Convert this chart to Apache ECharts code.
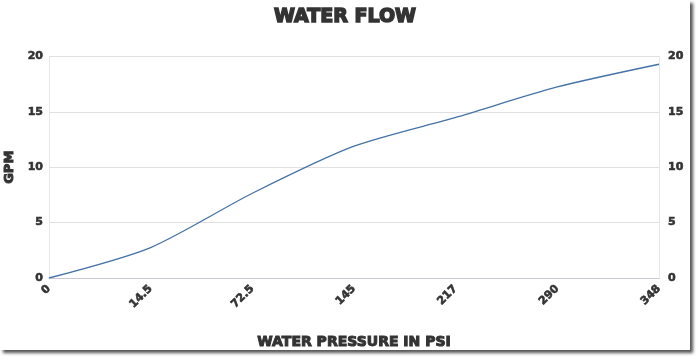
<!DOCTYPE html>
<html>
<head>
<meta charset="utf-8">
<script src="https://cdn.jsdelivr.net/npm/echarts@6/dist/echarts.min.js"></script>
<style>
html,body{margin:0;padding:0;background:#fff;}
#frame{position:absolute;left:0;top:0;width:690px;height:350px;background:#fff;box-shadow:3px 3px 3px #555;}
#chart{width:690px;height:350px;}
</style>
</head>
<body>
<div id="frame"><div id="chart"></div></div>
<script>
const categories = ['0', '14.5', '72.5', '145', '217', '290', '348'];
const flowGpm = [0, 2.75, 7.65, 11.9, 14.5, 17.25, 19.3];
const yTicks = [0, 5, 10, 15, 20];

const heavy = {fontFamily: 'DejaVu Sans', fontWeight: 'bold', color: '#333', textBorderColor: '#333'};
const chart = echarts.init(document.getElementById('chart'));
const yAxisBase = {
  type: 'value', min: yTicks[0], max: yTicks[yTicks.length - 1], interval: yTicks[1] - yTicks[0],
  axisLine: {show: true, lineStyle: {color: '#e6e6e6'}},
  axisTick: {show: false},
  splitLine: {lineStyle: {color: '#e0e0e0'}}
};
chart.setOption({
  animation: false,
  title: {
    text: 'WATER FLOW', left: 'center', top: 3,
    textStyle: Object.assign({}, heavy, {fontSize: 19, textBorderWidth: 1.5})
  },
  grid: {left: 49, right: 31, top: 56.5, bottom: 72, containLabel: false, outerBoundsMode: 'none'},
  xAxis: {
    type: 'category', data: categories, boundaryGap: false,
    name: 'WATER PRESSURE IN PSI', nameLocation: 'middle', nameGap: 57,
    nameTextStyle: Object.assign({}, heavy, {fontSize: 14, textBorderWidth: 1}),
    axisLine: {lineStyle: {color: '#c8c8d8'}},
    axisTick: {show: false},
    axisLabel: Object.assign({}, heavy, {fontSize: 11, rotate: 45, interval: 0, margin: 9, textBorderWidth: 0.6}),
    splitLine: {show: false}
  },
  yAxis: [
    Object.assign({}, yAxisBase, {
      position: 'left', name: 'GPM', nameLocation: 'middle', nameGap: 31,
      nameTextStyle: Object.assign({}, heavy, {fontSize: 13, textBorderWidth: 1}),
      axisLabel: Object.assign({}, heavy, {fontSize: 11, margin: 6, textBorderWidth: 0.6})
    }),
    Object.assign({}, yAxisBase, {
      position: 'right',
      axisLabel: Object.assign({}, heavy, {fontSize: 11, margin: 9, textBorderWidth: 0.6})
    })
  ],
  series: [{
    type: 'line', data: flowGpm, smooth: 0.25, showSymbol: false,
    lineStyle: {color: '#4572A7', width: 1.3}
  }]
});
</script>
</body>
</html>
